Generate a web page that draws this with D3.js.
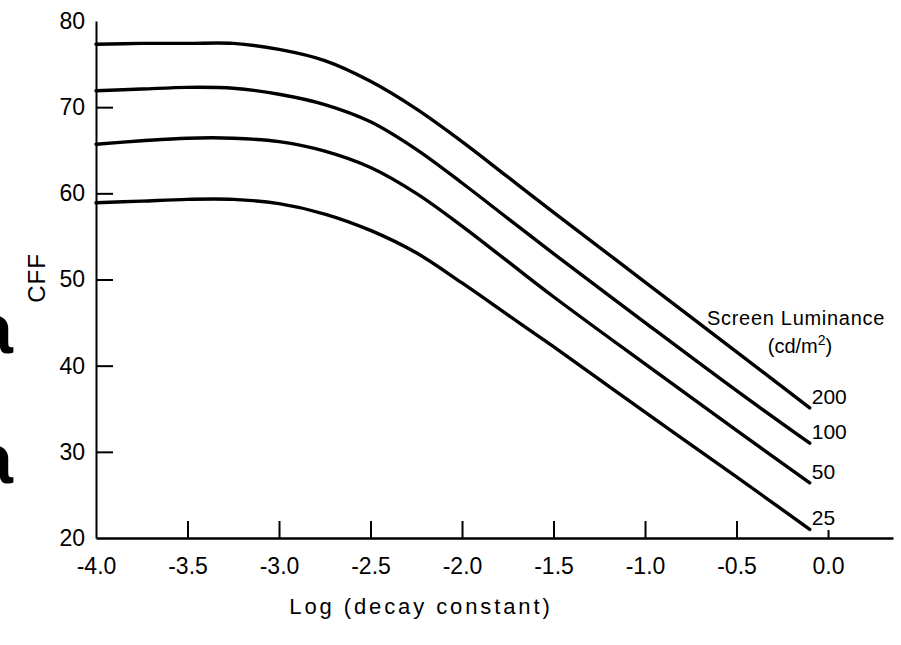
<!DOCTYPE html>
<html>
<head>
<meta charset="utf-8">
<script src="https://cdn.jsdelivr.net/npm/d3@7/dist/d3.min.js"></script>
<style>
  html, body { margin: 0; padding: 0; background: #fff; }
  svg { display: block; }
  text { font-family: "Liberation Sans", Arial, Helvetica, sans-serif; fill: #000; }
</style>
</head>
<body>
<svg id="chart" width="901" height="645"></svg>
<script>
// ---- data ----
const xValues = [-4.0, -3.75, -3.5, -3.25, -3.0, -2.75, -2.5, -2.25, -2.0, -1.75, -1.5, -1.0, -0.5, -0.1];
const lum200 = [77.3, 77.4, 77.4, 77.4, 76.7, 75.4, 73.0, 69.8, 66.0, 61.9, 57.8, 49.7, 41.6, 35.1];
const lum100 = [71.9, 72.1, 72.3, 72.2, 71.5, 70.3, 68.3, 65.1, 61.2, 57.1, 53.0, 45.0, 37.1, 31.0];
const lum50  = [65.7, 66.1, 66.4, 66.4, 66.0, 64.9, 63.0, 60.0, 56.2, 52.1, 48.0, 40.2, 32.5, 26.4];
const lum25  = [58.9, 59.1, 59.3, 59.3, 58.8, 57.6, 55.7, 53.1, 49.6, 45.9, 42.2, 34.6, 27.1, 21.0];
const seriesNames = ["200", "100", "50", "25"];
const xTicks = [-4.0, -3.5, -3.0, -2.5, -2.0, -1.5, -1.0, -0.5, 0.0];
const xTickLabels = ["-4.0", "-3.5", "-3.0", "-2.5", "-2.0", "-1.5", "-1.0", "-0.5", "0.0"];
const yTicks = [20, 30, 40, 50, 60, 70, 80];
const yTickLabels = ["20", "30", "40", "50", "60", "70", "80"];
const xTitle = "Log (decay constant)";
const yTitle = "CFF";
const legendTitle = "Screen Luminance";

// ---- layout ----
const svg = d3.select("#chart");
const x = d3.scaleLinear().domain([-4, 0.355]).range([96, 893]);
const y = d3.scaleLinear().domain([20, 80]).range([538, 21]);

const series = [lum200, lum100, lum50, lum25].map((vals, i) => ({
  name: seriesNames[i],
  points: xValues.map((xv, j) => [xv, vals[j]])
}));

// x axis
const xAxis = d3.axisBottom(x)
  .tickValues(xTicks)
  .tickFormat((d, i) => xTickLabels[i])
  .tickSize(-17)
  .tickSizeOuter(0)
  .tickPadding(20);
const gx = svg.append("g").attr("transform", `translate(0,${y(20)})`).call(xAxis);
gx.select(".domain").attr("stroke", "#000").attr("stroke-width", 2.5);
gx.selectAll(".tick line").attr("stroke", "#000").attr("stroke-width", 2)
  .filter(d => d === -4.0).remove();
gx.selectAll(".tick line").filter(d => d === 0).attr("y2", -8);
gx.selectAll(".tick text").attr("font-size", 23).attr("font-family", "Liberation Sans, Arial, sans-serif");

// y axis
const yAxis = d3.axisLeft(y)
  .tickValues(yTicks)
  .tickFormat((d, i) => yTickLabels[i])
  .tickSize(-17)
  .tickSizeOuter(0)
  .tickPadding(11);
const gy = svg.append("g").attr("transform", `translate(${x(-4)},0)`).call(yAxis);
gy.select(".domain").attr("stroke", "#000").attr("stroke-width", 2);
gy.selectAll(".tick line").attr("stroke", "#000").attr("stroke-width", 2)
  .filter(d => d === 20 || d === 80).remove();
gy.selectAll(".tick text").attr("font-size", 23).attr("font-family", "Liberation Sans, Arial, sans-serif");

// curves
const line = d3.line().x(d => x(d[0])).y(d => y(d[1])).curve(d3.curveCatmullRom.alpha(0.5));
svg.append("g").selectAll("path").data(series).join("path")
  .attr("d", d => line(d.points))
  .attr("fill", "none")
  .attr("stroke", "#000")
  .attr("stroke-width", 3.4)
  .attr("stroke-linecap", "round");

// curve labels
svg.append("g").selectAll("text").data(series).join("text")
  .attr("x", d => x(d.points[d.points.length - 1][0]) + 2)
  .attr("y", d => y(d.points[d.points.length - 1][1]) - 4)
  .attr("font-size", 21)
  .text(d => d.name);

// legend title
svg.append("text")
  .attr("x", 796).attr("y", 325)
  .attr("text-anchor", "middle")
  .attr("font-size", 20)
  .attr("letter-spacing", 0.7)
  .text(legendTitle);
const unit = svg.append("text")
  .attr("x", 800).attr("y", 353)
  .attr("text-anchor", "middle")
  .attr("font-size", 20);
unit.append("tspan").text("(cd/m");
unit.append("tspan").attr("font-size", 14).attr("dy", -8).text("2");
unit.append("tspan").attr("dy", 8).text(")");

// axis titles
svg.append("text")
  .attr("x", 421).attr("y", 614)
  .attr("text-anchor", "middle")
  .attr("font-size", 22)
  .attr("letter-spacing", 2.9)
  .text(xTitle);
svg.append("text")
  .attr("transform", "translate(45,278) rotate(-90)")
  .attr("text-anchor", "middle")
  .attr("font-size", 24)
  .attr("letter-spacing", 1)
  .text(yTitle);

// scan fragments at the left edge
svg.append("text").attr("x", 13).attr("y", 353).attr("text-anchor", "end")
  .attr("font-size", 70).attr("font-weight", "bold").text("a");
svg.append("text").attr("x", 13).attr("y", 483).attr("text-anchor", "end")
  .attr("font-size", 70).attr("font-weight", "bold").text("a");
</script>
</body>
</html>
